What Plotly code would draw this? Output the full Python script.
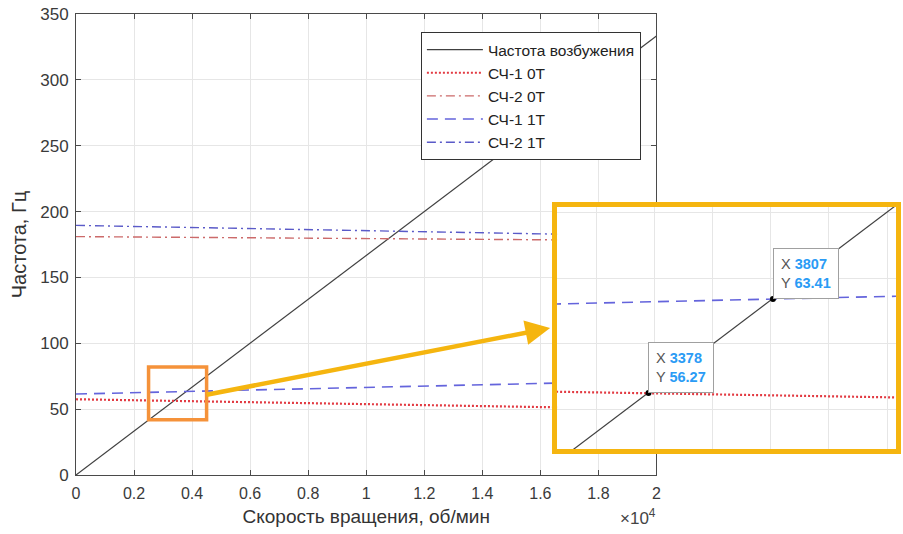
import plotly.graph_objects as go

# ---------------- data ----------------
rpm = [0, 20000]                       # rotation speed, rpm
excitation = [0, 333.33]               # excitation frequency, Hz (rpm/60)
sch1_0t = [57.5, 50.1]                 # СЧ-1 0Т
sch2_0t = [181.0, 178.0]               # СЧ-2 0Т
sch1_1t = [61.5, 71.5]                 # СЧ-1 1Т
sch2_1t = [189.5, 181.5]               # СЧ-2 1Т

series_names = ["Частота возбужения", "СЧ-1 0Т", "СЧ-2 0Т", "СЧ-1 1Т", "СЧ-2 1Т"]

tip_x = [3378, 3807]
tip_y = [56.27, 63.41]

x_tickvals = [0, 2000, 4000, 6000, 8000, 10000, 12000, 14000, 16000, 18000, 20000]
x_ticktext = ["0", "0.2", "0.4", "0.6", "0.8", "1", "1.2", "1.4", "1.6", "1.8", "2"]
y_tickvals = [0, 50, 100, 150, 200, 250, 300, 350]

# ---------------- styles ----------------
FONT = "Liberation Sans, Arial, sans-serif"
styles = [
    dict(color="#404040", width=1.2, dash="solid"),
    dict(color="#e23a42", width=2.2, dash="2px,2px"),
    dict(color="#cc6a6a", width=1.4, dash="9px,4px,2px,4px"),
    dict(color="#6464dc", width=1.6, dash="11px,7px"),
    dict(color="#5a5ac8", width=1.4, dash="9px,4px,2px,4px"),
]
all_series = [excitation, sch1_0t, sch2_0t, sch1_1t, sch2_1t]

fig = go.Figure()
for name, ys, st in zip(series_names, all_series, styles):
    fig.add_trace(go.Scatter(x=rpm, y=ys, mode="lines", name=name,
                             line=st, xaxis="x", yaxis="y", showlegend=True))
for name, ys, st in zip(series_names, all_series, styles):
    fig.add_trace(go.Scatter(x=rpm, y=ys, mode="lines", name=name,
                             line=dict(st), xaxis="x2", yaxis="y2",
                             showlegend=False))
fig.add_trace(go.Scatter(x=tip_x, y=tip_y, mode="markers", showlegend=False,
                         marker=dict(color="black", size=6),
                         xaxis="x2", yaxis="y2"))

W, H = 903, 534
L, R, T, B = 76, 2, 14, 59
pw = W - L - R
ph = H - T - B

def px_x(p):
    return (p - L) / pw

def px_y(p):
    return (H - B - p) / ph

grid = "#e6e6e6"
axcol = "#4a4a4a"
gold = "#f5b50f"

fig.update_layout(
    width=W, height=H,
    margin=dict(l=L, r=R, t=T, b=B),
    paper_bgcolor="white", plot_bgcolor="white",
    font=dict(family=FONT, size=16, color="#333333"),
    showlegend=True,
    legend=dict(x=px_x(423), y=px_y(32), xanchor="left", yanchor="top",
                bgcolor="white", bordercolor="#333333", borderwidth=1,
                font=dict(size=15.5, color="#222222"), tracegroupgap=0,
                itemwidth=56),
    xaxis=dict(domain=[0, px_x(660)], range=[0, 20000], tickvals=x_tickvals,
               ticktext=x_ticktext, showgrid=True, gridcolor=grid,
               ticks="inside", ticklen=5, tickcolor=axcol,
               showline=True, linecolor=axcol, linewidth=1, mirror="ticks",
               zeroline=False, tickfont=dict(size=16, color="#3a3a3a"),
               ticklabelstandoff=4,
               title=dict(text="Скорость вращения, об/мин",
                          font=dict(size=19, color="#333333"), standoff=8),
               anchor="y"),
    yaxis=dict(domain=[0, 1], range=[0, 350], tickvals=y_tickvals,
               showgrid=True, gridcolor=grid,
               ticks="inside", ticklen=5, tickcolor=axcol,
               showline=True, linecolor=axcol, linewidth=1, mirror="ticks",
               zeroline=False, tickfont=dict(size=17, color="#3a3a3a"),
               ticklabelstandoff=3,
               title=dict(text="Частота, Гц",
                          font=dict(size=20, color="#333333"), standoff=8),
               anchor="x"),
    xaxis2=dict(domain=[px_x(560), px_x(901)], range=[3063, 4231], tick0=0,
                dtick=200, showticklabels=False, ticks="", showgrid=True,
                gridcolor=grid, showline=True, linecolor=gold, linewidth=5,
                mirror=True, zeroline=False, anchor="y2"),
    yaxis2=dict(domain=[px_y(449), px_y(207)], range=[52.02, 70.39], tick0=0,
                dtick=5, showticklabels=False, ticks="", showgrid=True,
                gridcolor=grid, showline=True, linecolor=gold, linewidth=5,
                mirror=True, zeroline=False, anchor="x2"),
)

# orange zoom box in main axes
fig.add_shape(type="rect", xref="x", yref="y", x0=2500, x1=4500, y0=42, y1=82,
              line=dict(color="#f5923a", width=3.5), fillcolor="rgba(0,0,0,0)",
              layer="above")

# arrow from zoom box to inset
fig.add_annotation(xref="paper", yref="paper", x=px_x(553), y=px_y(328),
                   ax=208 - 553, ay=395 - 328, axref="pixel", ayref="pixel",
                   text="", showarrow=True, arrowhead=2, arrowsize=1.1,
                   arrowwidth=4.5, arrowcolor=gold, standoff=0)

# x10^4 multiplier
fig.add_annotation(xref="paper", yref="paper", x=px_x(662), y=px_y(530),
                   xanchor="right",
                   text="×10<sup>4</sup>", showarrow=False,
                   font=dict(size=17, color="#444444"))

# data tips
for xv, yv in zip(tip_x, tip_y):
    txt = ("<span style='color:#555555'>X</span> "
           "<span style='color:#2a9bf5'><b>%d</b></span><br>"
           "<span style='color:#555555'>Y</span> "
           "<span style='color:#2a9bf5'><b>%.2f</b></span>") % (xv, yv)
    fig.add_annotation(xref="x2", yref="y2", x=xv, y=yv, text=txt,
                       showarrow=False, xanchor="left", yanchor="bottom",
                       align="left", bgcolor="white", bordercolor="#a0a0a0",
                       borderwidth=1, borderpad=7,
                       font=dict(size=14.5, family=FONT))

fig.write_html("out.html")
